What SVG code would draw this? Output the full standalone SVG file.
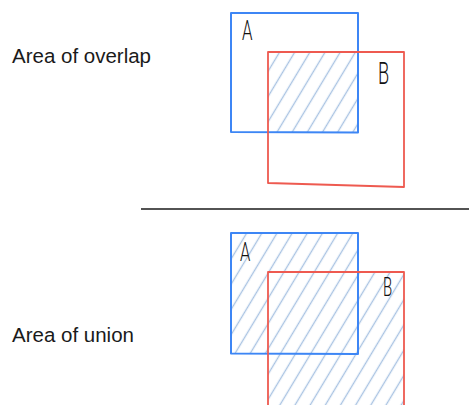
<svg xmlns="http://www.w3.org/2000/svg" width="469" height="405" viewBox="0 0 469 405">
  <style>
    .label { font-family: "Liberation Sans", Arial, sans-serif; font-size: 20.5px; fill: #1a1a1a; }
    .hand { font-family: Roboto, "Liberation Sans", sans-serif; font-weight: 300; fill: #111; }
    .setA { fill: none; stroke: #3d86f5; stroke-width: 2; stroke-linejoin: round; }
    .setB { fill: none; stroke: #ee5a50; stroke-width: 1.8; stroke-linejoin: round; }
    .rule { stroke: #1a1a1a; stroke-width: 1.6; }
  </style>
  <defs>
    <!-- diagonal hand-style hatching, rising to the right -->
    <pattern id="hatch" patternUnits="userSpaceOnUse" width="13" height="13" patternTransform="rotate(31)">
      <line x1="6.5" y1="-1" x2="6.5" y2="14" stroke="#a9c3e2" stroke-width="1.4"/>
    </pattern>
    <!-- region covered by A or B in the lower panel -->
    <clipPath id="union-clip">
      <rect x="231" y="233" width="127" height="121"/>
      <rect x="268" y="272" width="136" height="140"/>
    </clipPath>
  </defs>

  <rect width="469" height="405" fill="#ffffff"/>

  <!-- upper panel: intersection -->
  <g id="overlap-panel">
    <text class="label" x="12" y="63">Area of overlap</text>
    <rect id="overlap-fill" x="268" y="52" width="90" height="81" fill="url(#hatch)"/>
    <g id="overlap-setA">
      <path class="setA" d="M231,13 L358,13 L358,132.5 L231,132 Z"/>
      <text class="hand" font-size="28" transform="translate(242,40) scale(0.6,1)">A</text>
    </g>
    <g id="overlap-setB">
      <path class="setB" d="M268,52 L404,52 L404,187 L268,183 Z"/>
      <text class="hand" font-size="32" transform="translate(378,84) scale(0.57,1)">B</text>
    </g>
  </g>

  <!-- divider -->
  <line class="rule" x1="141" y1="209" x2="469" y2="209"/>

  <!-- lower panel: union -->
  <g id="union-panel">
    <text class="label" x="12" y="341.5">Area of union</text>
    <rect id="union-fill" x="231" y="233" width="173" height="172" fill="url(#hatch)" clip-path="url(#union-clip)"/>
    <g id="union-setA">
      <path class="setA" d="M231,233 L358,233 L358,354 L231,353.5 Z"/>
      <text class="hand" font-size="25" transform="translate(240,261) scale(0.66,1)">A</text>
    </g>
    <g id="union-setB">
      <path class="setB" d="M268,410 L268,272 L404,272 L404,410"/>
      <text class="hand" font-size="25" transform="translate(383,296) scale(0.6,1)">B</text>
    </g>
  </g>
</svg>
